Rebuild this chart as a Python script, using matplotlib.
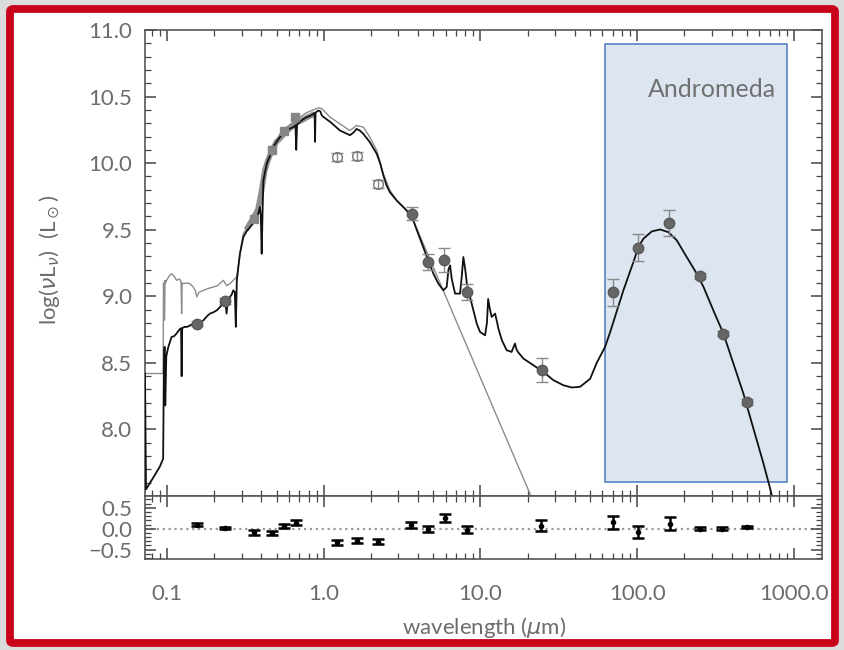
import numpy as np
import matplotlib
matplotlib.use('Agg')
import matplotlib.pyplot as plt
from matplotlib.patches import Rectangle, FancyBboxPatch
from matplotlib.ticker import FixedLocator, MultipleLocator, LogLocator, NullFormatter, FormatStrFormatter

# ---------------- data ----------------
# total model (attenuated stars + dust)
lam_tot = [0.0724, 0.0735, 0.080, 0.090, 0.0945, 0.0955, 0.0965, 0.0975, 0.0990, 0.102, 0.107,
           0.111, 0.115, 0.120, 0.123, 0.124, 0.125, 0.129, 0.134, 0.140, 0.147,
           0.151, 0.155, 0.163, 0.171, 0.180, 0.188, 0.198, 0.208, 0.218, 0.229,
           0.236, 0.240, 0.244, 0.252, 0.258, 0.265, 0.271, 0.275, 0.279, 0.292,
           0.307, 0.323, 0.339, 0.356, 0.373, 0.392, 0.397, 0.402, 0.407, 0.412,
           0.433, 0.455, 0.477, 0.500, 0.526, 0.550, 0.580, 0.610, 0.640, 0.660,
           0.668, 0.676, 0.706, 0.740, 0.778, 0.820, 0.859, 0.875, 0.880, 0.887,
           0.924, 0.950, 0.970, 1.00, 1.10, 1.27, 1.47, 1.55, 1.62, 1.70,
           1.79, 1.97, 2.18, 2.29, 2.40, 2.52, 2.65, 2.92, 3.38, 3.73,
           3.92, 4.54, 5.01, 5.39, 5.80, 6.09, 6.25, 6.40, 6.56, 6.89,
           7.41, 7.60, 7.78, 8.00, 8.18, 8.58, 9.01, 9.47, 9.94, 10.7,
           11.0, 11.2, 11.5, 11.8, 12.4, 12.8, 13.0, 13.7, 14.7, 15.8,
           16.6, 17.0, 17.4, 18.8, 21.8, 25.2, 29.2, 33.8, 38.2, 43.2,
           50.1, 55.2, 62.4, 67.2, 70.5, 81.7, 94.6, 101.8, 109.5, 123.9,
           140.0, 158.0, 179.0, 207.0, 240.0, 265.0, 306.0, 355.0, 411.0, 476.0,
           525.0, 580.0, 639.0, 705.0, 735.0]
lum_tot = [8.42, 7.55, 7.62, 7.72, 7.78, 8.45, 8.62, 8.18, 8.55, 8.62, 8.695,
           8.70, 8.72, 8.75, 8.76, 8.40, 8.76, 8.77, 8.77, 8.78, 8.795,
           8.78, 8.77, 8.80, 8.82, 8.85, 8.87, 8.88, 8.895, 8.92, 8.945,
           8.95, 8.87, 8.96, 8.995, 9.01, 9.045, 9.03, 8.77, 9.12, 9.32,
           9.445, 9.49, 9.52, 9.55, 9.57, 9.67, 9.60, 9.32, 9.62, 9.87,
           9.995, 10.06, 10.12, 10.16, 10.195, 10.22, 10.245, 10.26, 10.27, 10.285,
           10.10, 10.29, 10.31, 10.33, 10.345, 10.355, 10.37, 10.375, 10.16, 10.38,
           10.395, 10.39, 10.36, 10.345, 10.31, 10.245, 10.21, 10.23, 10.257, 10.245,
           10.22, 10.157, 10.07, 10.0, 9.91, 9.83, 9.78, 9.72, 9.645, 9.57,
           9.50, 9.30, 9.17, 9.095, 9.045, 9.07, 9.20, 9.232, 9.13, 9.02,
           9.02, 9.15, 9.295, 9.20, 9.10, 8.995, 8.895, 8.795, 8.732, 8.707,
           8.80, 8.98, 8.90, 8.845, 8.87, 8.80, 8.76, 8.67, 8.595, 8.582,
           8.645, 8.60, 8.58, 8.532, 8.482, 8.432, 8.37, 8.332, 8.315, 8.32,
           8.38, 8.50, 8.62, 8.73, 8.807, 9.045, 9.257, 9.37, 9.432, 9.487,
           9.502, 9.482, 9.42, 9.295, 9.17, 9.07, 8.895, 8.72, 8.495, 8.27,
           8.095, 7.92, 7.745, 7.557, 7.47]

# unattenuated stellar model
lam_star = [0.0724, 0.0945, 0.0950, 0.0965, 0.0972, 0.0980, 0.0995, 0.103, 0.107, 0.111,
            0.115, 0.120, 0.123, 0.124, 0.125, 0.127, 0.134, 0.140, 0.147, 0.152,
            0.155, 0.160, 0.171, 0.185, 0.198, 0.210, 0.229, 0.240, 0.252, 0.265,
            0.279, 0.292, 0.307, 0.339, 0.373, 0.392, 0.412, 0.433, 0.477, 0.526,
            0.580, 0.640, 0.706, 0.778, 0.859, 0.924, 0.970, 1.10, 1.27, 1.47,
            1.62, 1.79, 1.97, 2.18, 2.40, 2.65, 2.92, 3.38, 3.73, 11.5, 21.0]
lum_star = [8.42, 8.42, 9.10, 8.82, 9.12, 9.10, 9.12, 9.15, 9.17, 9.15,
            9.12, 9.13, 9.11, 8.87, 9.10, 9.095, 9.10, 9.095, 9.07, 9.04,
            8.995, 9.03, 9.045, 9.06, 9.07, 9.08, 9.12, 9.08, 9.095, 9.12,
            9.145, 9.32, 9.47, 9.545, 9.61, 9.695, 9.895, 10.01, 10.13, 10.22,
            10.27, 10.31, 10.345, 10.38, 10.40, 10.415, 10.41, 10.345, 10.295, 10.245,
            10.283, 10.27, 10.195, 10.095, 9.92, 9.795, 9.72, 9.645, 9.57, 8.22, 7.5]

# observed optical spectrum (thick grey band)
lam_spec = [0.32, 0.34, 0.36, 0.38, 0.40, 0.42, 0.44, 0.47, 0.50, 0.54, 0.58, 0.62, 0.66, 0.72, 0.80, 0.88]
lum_spec = [9.50, 9.55, 9.60, 9.65, 9.78, 9.94, 10.02, 10.10, 10.16, 10.20, 10.24, 10.27, 10.30, 10.32, 10.35, 10.37]

# photometry
lam_phot = [0.155, 0.234, 3.64, 4.60, 5.87, 8.18, 24.7, 70.5, 100.8, 160.6, 252.0, 351.8, 500.6]
lum_phot = [8.795, 8.965, 9.62, 9.26, 9.27, 9.03, 8.445, 9.03, 9.365, 9.55, 9.152, 8.72, 8.207]
err_phot = [0.02, 0.02, 0.05, 0.06, 0.09, 0.06, 0.09, 0.10, 0.10, 0.095, 0.02, 0.02, 0.02]

lam_opt = [0.357, 0.468, 0.555, 0.656]
lum_opt = [9.58, 10.10, 10.24, 10.345]

lam_open = [1.22, 1.62, 2.23]
lum_open = [10.045, 10.05, 9.84]
err_open = [0.03, 0.03, 0.03]

# residuals
lam_res = [0.155, 0.233, 0.357, 0.468, 0.555, 0.670, 1.21, 1.63, 2.23, 3.62,
           4.62, 5.91, 8.2, 24.3, 70.5, 101.0, 163.0, 252.0, 350.0, 505.0]
res = [0.10, 0.02, -0.08, -0.10, 0.07, 0.14, -0.32, -0.29, -0.31, 0.09,
       -0.01, 0.26, -0.02, 0.07, 0.15, -0.08, 0.12, 0.0, 0.0, 0.04]
res_err = [0.035, 0.03, 0.06, 0.05, 0.05, 0.06, 0.06, 0.06, 0.06, 0.07,
           0.08, 0.10, 0.085, 0.13, 0.15, 0.15, 0.15, 0.03, 0.03, 0.03]

# Andromeda highlight box (data coords)
box_lam = [62.4, 900.0]
box_lum = [7.607, 10.896]
box_label = 'Andromeda'

xtick_vals = [0.1, 1.0, 10.0, 100.0, 1000.0]
xtick_labels = ['0.1', '1.0', '10.0', '100.0', '1000.0']
ytick_vals = [8.0, 8.5, 9.0, 9.5, 10.0, 10.5, 11.0]
res_tick_vals = [-0.5, 0.0, 0.5]
res_tick_labels = ['\u22120.5', '0.0', '0.5']

# ---------------- figure ----------------
plt.rcParams['font.family'] = ['Lato', 'DejaVu Sans']
plt.rcParams['mathtext.fontset'] = 'dejavusans'

W, H = 844, 650
fig = plt.figure(figsize=(W / 100, H / 100), dpi=100)
fig.patch.set_facecolor('#dcdcdc')

frame = FancyBboxPatch((10 / W, 1 - 643 / H), (835 - 10) / W, (643 - 9) / H,
                       boxstyle='round,pad=0,rounding_size=0.004',
                       transform=fig.transFigure, facecolor='white',
                       edgecolor='#c8001a', linewidth=5.6, zorder=-10)
fig.patches.append(frame)

L, R = 145 / W, 821.5 / W
ax = fig.add_axes([L, 1 - 496 / H, R - L, (496 - 30) / H])
axr = fig.add_axes([L, 1 - 558.5 / H, R - L, (558.5 - 496) / H], sharex=ax)

tick_col = '#444444'
lab_col = '#6c6c6c'
for a in (ax, axr):
    a.set_xscale('log')
    a.set_facecolor('white')
    for s in a.spines.values():
        s.set_color('#555555')
        s.set_linewidth(1.2)
    a.tick_params(which='both', direction='in', top=True, right=True,
                  color=tick_col, labelcolor=lab_col, labelsize=16)
    a.tick_params(which='major', length=8, width=1.1)
    a.tick_params(which='minor', length=4, width=0.9)
    a.xaxis.set_minor_locator(LogLocator(base=10, subs=np.arange(2, 10), numticks=20))
    a.xaxis.set_minor_formatter(NullFormatter())

ax.set_xlim(0.0724, 1500)
ax.set_ylim(7.5, 11.0)
ax.yaxis.set_major_locator(FixedLocator(ytick_vals))
ax.yaxis.set_minor_locator(MultipleLocator(0.1))
ax.yaxis.set_major_formatter(FormatStrFormatter('%.1f'))
ax.tick_params(axis='y', pad=9)
ax.tick_params(labelbottom=False)

# box
ax.add_patch(Rectangle((box_lam[0], box_lum[0]), box_lam[1] - box_lam[0], box_lum[1] - box_lum[0],
                       facecolor='#dde5f1', edgecolor='#4a78bf', linewidth=1.1, zorder=0.5))
ax.text(box_lam[1] * 0.86, 10.55, box_label, ha='right', va='center',
        fontsize=18, color='#707070', zorder=6)

# curves
ax.plot(lam_spec, lum_spec, color='#8f8f8f', lw=4.0, solid_capstyle='butt', zorder=2)
ax.plot(lam_star, lum_star, color='#8c8c8c', lw=1.0, zorder=2.5)
ax.plot(lam_tot, lum_tot, color='#111111', lw=1.3, zorder=3)

# data points
ax.errorbar(lam_phot, lum_phot, yerr=err_phot, fmt='o', ms=7.5, color='#666666',
            mec='#5a5a5a', ecolor='#8a8a8a', elinewidth=1.0, capsize=4, capthick=1.0, zorder=5)
ax.errorbar(lam_open, lum_open, yerr=err_open, fmt='o', ms=7, mfc='none', mec='#777777',
            ecolor='#888888', elinewidth=1.0, capsize=4, capthick=1.0, zorder=5)
ax.plot(lam_opt, lum_opt, 's', ms=5.5, color='#858585', zorder=4)

# residual panel
axr.set_ylim(-0.71, 0.78)
axr.yaxis.set_major_locator(FixedLocator(res_tick_vals))
axr.set_yticklabels(res_tick_labels)
axr.yaxis.set_minor_locator(MultipleLocator(0.1))
axr.tick_params(axis='y', pad=9)
axr.axhline(0, color='#999999', ls=':', lw=1.6, zorder=1)
axr.errorbar(lam_res, res, yerr=res_err, fmt='o', ms=3, color='black',
             elinewidth=1.8, capsize=4, capthick=1.8, zorder=5)
axr.xaxis.set_major_locator(FixedLocator(xtick_vals))
axr.set_xticklabels(xtick_labels)
axr.tick_params(axis='x', pad=18)
axr.set_xlim(0.0724, 1500)

fig.text(484 / W, 1 - 628 / H, r'wavelength ($\mu$m)', ha='center', va='center',
         fontsize=16, color=lab_col)
fig.text(50 / W, 1 - 260 / H, r'log($\nu$L$_\nu$)  (L$_\odot$)', ha='center', va='center',
         rotation=90, fontsize=16, color=lab_col)

fig.savefig('out.png', dpi=100, facecolor=fig.get_facecolor())
